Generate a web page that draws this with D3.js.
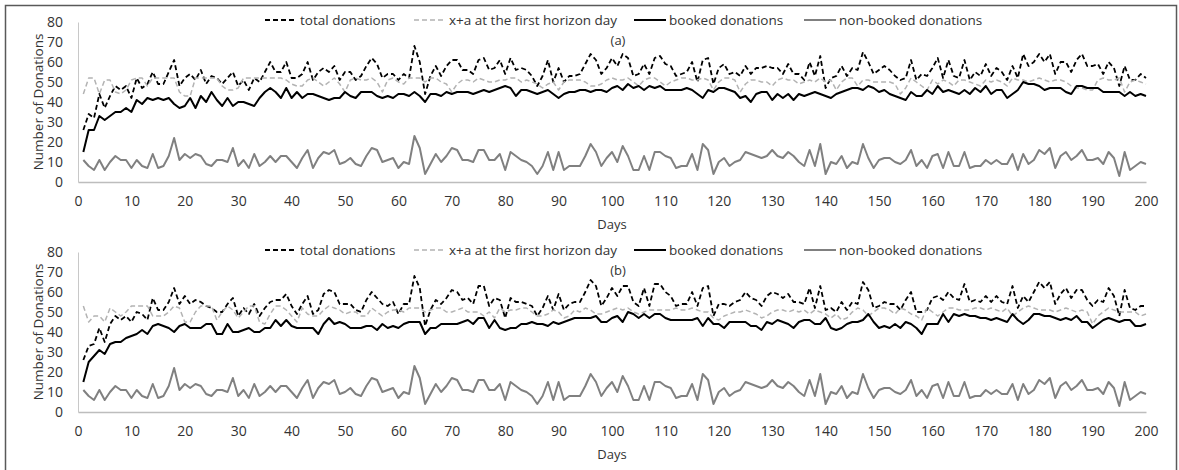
<!DOCTYPE html>
<html>
<head>
<meta charset="utf-8">
<script src="https://cdn.jsdelivr.net/npm/d3@7"></script>
<style>
  body { margin: 0; background: #fff; }
  svg text { font-family: "Open Sans", "Liberation Sans", sans-serif; fill: #333; }
</style>
</head>
<body>
<svg id="chart" width="1179" height="470"></svg>
<script>
// Days 1..200
var days = d3.range(1, 201);
var xTicks = [0, 10, 20, 30, 40, 50, 60, 70, 80, 90, 100, 110, 120, 130, 140, 150, 160, 170, 180, 190, 200];
var yTicks = [0, 10, 20, 30, 40, 50, 60, 70, 80];
var seriesNames = ["total donations", "x+a at the first horizon day", "booked donations", "non-booked donations"];

// non-booked donations (same in both panels)
var nonBooked = [
  11, 8, 6, 11, 6, 10, 13, 11, 11, 7,
  11, 8, 7, 14, 7, 8, 13, 22, 11, 14,
  12, 14, 13, 9, 8, 11, 11, 10, 17, 8,
  11, 7, 14, 8, 10, 13, 10, 13, 13, 10,
  7, 12, 16, 7, 12, 15, 14, 16, 9, 10,
  12, 9, 8, 13, 17, 16, 10, 11, 12, 7,
  10, 9, 23, 17, 4, 9, 14, 10, 13, 17,
  16, 11, 11, 10, 16, 16, 11, 11, 14, 6,
  15, 13, 11, 10, 8, 4, 8, 15, 6, 15,
  6, 8, 8, 8, 13, 19, 15, 8, 12, 15,
  10, 18, 13, 6, 6, 13, 6, 15, 15, 13,
  12, 7, 8, 8, 14, 6, 19, 16, 4, 10,
  12, 8, 10, 11, 15, 14, 13, 12, 13, 16,
  13, 12, 15, 13, 10, 8, 16, 8, 19, 4,
  10, 9, 13, 7, 10, 9, 19, 12, 7, 11,
  12, 12, 10, 9, 11, 16, 8, 11, 7, 13,
  14, 7, 15, 8, 8, 15, 7, 8, 8, 11,
  9, 11, 9, 9, 14, 6, 14, 9, 11, 16,
  14, 17, 7, 13, 15, 11, 13, 16, 11, 11,
  12, 9, 15, 12, 3, 15, 6, 8, 10, 9
];

// panel (a)
var bookedA = [
  15, 26, 26, 33, 31, 33, 35, 35, 37, 35,
  41, 39, 42, 41, 42, 41, 42, 39, 37, 38,
  42, 37, 43, 40, 45, 41, 38, 42, 38, 40,
  40, 39, 38, 42, 45, 47, 45, 42, 47, 42,
  45, 42, 44, 44, 43, 42, 41, 42, 42, 45,
  43, 42, 45, 45, 45, 43, 42, 43, 42, 44,
  44, 43, 45, 43, 40, 44, 44, 43, 45, 44,
  45, 45, 45, 44, 45, 46, 45, 46, 47, 48,
  47, 43, 46, 46, 45, 44, 45, 46, 44, 42,
  44, 45, 45, 46, 46, 45, 46, 46, 45, 47,
  48, 46, 49, 47, 48, 46, 48, 47, 48, 46,
  46, 46, 46, 47, 46, 44, 42, 46, 45, 47,
  47, 46, 45, 42, 43, 40, 44, 45, 45, 41,
  44, 42, 44, 41, 44, 43, 44, 45, 44, 43,
  42, 44, 45, 46, 47, 47, 46, 48, 47, 45,
  46, 44, 43, 42, 41, 45, 43, 43, 46, 44,
  48, 45, 46, 45, 44, 46, 44, 47, 45, 48,
  44, 46, 46, 42, 44, 46, 50, 49, 49, 48,
  46, 47, 47, 47, 45, 44, 48, 48, 47, 47,
  47, 45, 45, 45, 45, 43, 45, 43, 44, 43
];
var totalA = [
  26, 34, 32, 44, 37, 43, 48, 46, 48, 42,
  52, 47, 49, 55, 49, 49, 55, 61, 48, 52,
  54, 51, 56, 49, 53, 52, 49, 52, 55, 48,
  51, 46, 52, 50, 55, 60, 55, 55, 60, 52,
  52, 54, 60, 51, 55, 57, 55, 58, 51, 55,
  55, 51, 53, 58, 62, 59, 52, 54, 54, 51,
  54, 52, 68, 60, 44, 53, 58, 53, 58, 61,
  61, 56, 56, 54, 61, 62, 56, 57, 61, 54,
  62, 56, 57, 56, 53, 48, 53, 61, 50, 57,
  50, 53, 53, 54, 59, 64, 61, 54, 57, 62,
  58, 64, 62, 53, 54, 59, 54, 62, 63, 59,
  58, 53, 54, 55, 60, 50, 61, 62, 49, 57,
  59, 54, 55, 53, 58, 54, 57, 57, 58, 57,
  57, 54, 59, 54, 54, 51, 60, 53, 63, 47,
  52, 53, 58, 53, 57, 56, 65, 60, 54, 56,
  58, 56, 53, 51, 52, 61, 51, 54, 53, 57,
  62, 52, 61, 53, 52, 61, 51, 55, 53, 59,
  53, 57, 55, 51, 58, 52, 64, 58, 60, 64,
  60, 64, 54, 60, 60, 55, 61, 64, 58, 58,
  59, 54, 60, 57, 48, 58, 51, 51, 54, 52
];
var firstDayA = [
  44, 52, 52, 44, 51, 51, 45, 44, 46, 51,
  52, 52, 48, 52, 52, 52, 52, 52, 45, 43,
  43, 52, 52, 52, 52, 52, 48, 46, 46, 47,
  52, 52, 52, 52, 52, 52, 52, 52, 51, 49,
  48, 48, 51, 52, 50, 48, 50, 52, 49, 45,
  51, 52, 51, 51, 52, 50, 45, 51, 52, 50,
  49, 52, 52, 52, 50, 52, 52, 50, 49, 45,
  49, 51, 51, 50, 52, 51, 50, 50, 51, 51,
  52, 52, 50, 51, 50, 49, 47, 49, 50, 46,
  50, 51, 51, 51, 50, 48, 48, 49, 51, 52,
  51, 51, 52, 50, 48, 51, 52, 52, 50, 48,
  50, 51, 52, 52, 51, 51, 52, 51, 46, 50,
  52, 52, 51, 45, 49, 51, 51, 50, 50, 48,
  51, 52, 51, 51, 49, 50, 51, 50, 52, 50,
  51, 46, 50, 52, 52, 48, 51, 51, 50, 50,
  50, 50, 49, 44, 47, 52, 50, 48, 46, 51,
  49, 51, 50, 48, 51, 51, 50, 49, 48, 51,
  50, 51, 50, 48, 52, 51, 51, 50, 51, 52,
  51, 50, 51, 51, 50, 48, 47, 47, 46, 46,
  51, 52, 51, 51, 52, 45, 50, 51, 50, 49
];

// panel (b)
var bookedB = [
  15, 25, 28, 31, 29, 34, 35, 35, 37, 38,
  39, 41, 39, 43, 44, 43, 42, 40, 43, 44,
  42, 42, 42, 44, 44, 39, 39, 44, 40, 40,
  41, 42, 40, 40, 42, 42, 46, 43, 46, 43,
  42, 42, 42, 42, 39, 44, 47, 44, 45, 44,
  42, 42, 42, 43, 43, 41, 44, 42, 43, 42,
  44, 45, 45, 45, 39, 42, 42, 44, 44, 44,
  44, 45, 46, 44, 47, 47, 42, 46, 42, 41,
  42, 42, 44, 44, 45, 44, 44, 43, 45, 44,
  45, 46, 47, 47, 47, 47, 48, 45, 45, 47,
  48, 45, 50, 49, 47, 49, 47, 49, 49, 47,
  46, 46, 46, 46, 46, 47, 43, 47, 44, 44,
  42, 45, 45, 45, 45, 43, 43, 41, 45, 44,
  46, 45, 44, 42, 45, 46, 46, 44, 44, 47,
  42, 41, 42, 44, 45, 45, 46, 49, 45, 42,
  43, 42, 44, 42, 45, 44, 42, 39, 44, 44,
  44, 49, 45, 49, 48, 49, 48, 48, 47, 47,
  46, 47, 46, 45, 49, 46, 44, 46, 49, 49,
  48, 48, 47, 46, 47, 46, 48, 45, 45, 42,
  44, 46, 47, 46, 45, 46, 46, 43, 43, 44
];
var totalB = [
  26, 33, 34, 42, 35, 44, 48, 46, 48, 45,
  50, 49, 46, 57, 51, 51, 55, 62, 54, 58,
  54, 56, 55, 53, 52, 50, 50, 54, 57, 48,
  52, 49, 54, 48, 52, 55, 56, 56, 59, 53,
  49, 54, 58, 49, 51, 59, 61, 60, 54, 54,
  54, 51, 50, 56, 60, 57, 54, 53, 55, 49,
  54, 54, 68, 62, 43, 51, 56, 54, 57, 61,
  60, 56, 57, 54, 63, 63, 53, 57, 56, 47,
  57, 55, 55, 54, 53, 48, 52, 58, 51, 59,
  51, 54, 55, 55, 60, 66, 63, 53, 57, 62,
  58, 63, 63, 55, 53, 62, 53, 64, 64, 60,
  58, 53, 54, 54, 60, 53, 62, 63, 48, 54,
  54, 53, 55, 56, 60, 57, 56, 53, 58, 60,
  59, 57, 59, 55, 55, 54, 62, 52, 63, 51,
  52, 50, 55, 51, 55, 54, 65, 61, 52, 53,
  55, 54, 54, 51, 56, 60, 50, 50, 51, 57,
  58, 56, 60, 57, 56, 64, 55, 56, 55, 58,
  55, 58, 55, 54, 63, 52, 58, 55, 60, 65,
  62, 65, 54, 59, 62, 57, 61, 61, 56, 53,
  56, 55, 62, 58, 48, 61, 52, 51, 53, 53
];
var firstDayB = [
  53, 45, 48, 48, 45, 52, 50, 48, 50, 53,
  53, 53, 53, 48, 48, 48, 50, 53, 52, 45,
  45, 50, 53, 53, 53, 46, 50, 53, 51, 47,
  50, 53, 53, 45, 44, 49, 53, 53, 51, 48,
  45, 52, 49, 48, 48, 51, 53, 52, 51, 49,
  50, 50, 48, 48, 52, 50, 48, 50, 51, 51,
  50, 52, 52, 52, 50, 51, 52, 52, 50, 50,
  51, 52, 50, 50, 50, 48, 50, 47, 52, 50,
  51, 51, 52, 52, 50, 48, 48, 49, 51, 50,
  47, 48, 51, 50, 52, 51, 49, 49, 50, 51,
  52, 51, 52, 50, 49, 50, 51, 51, 51, 51,
  51, 52, 51, 51, 52, 51, 50, 50, 47, 46,
  48, 49, 50, 50, 51, 50, 49, 47, 48, 50,
  51, 51, 50, 51, 50, 51, 49, 51, 50, 49,
  47, 49, 46, 47, 50, 52, 51, 48, 50, 52,
  52, 51, 49, 52, 51, 49, 48, 46, 52, 50,
  48, 50, 52, 52, 51, 51, 51, 52, 52, 51,
  52, 51, 50, 52, 48, 50, 52, 53, 52, 51,
  51, 51, 50, 51, 52, 51, 50, 51, 50, 44,
  48, 50, 52, 51, 50, 50, 50, 50, 48, 49
];

var svg = d3.select("#chart");

// outer frame
svg.append("rect")
  .attr("x", 5.5).attr("y", 5.5)
  .attr("width", 1171).attr("height", 470)
  .attr("fill", "none").attr("stroke", "#595959").attr("stroke-width", 1.5);

var x = d3.scaleLinear().domain([0, 200]).range([78, 1146]);

var styles = [
  { color: "#000", width: 1.8, dash: "5,3" },
  { color: "#b3b3b3", width: 1.5, dash: "5,3" },
  { color: "#000", width: 2, dash: null },
  { color: "#808080", width: 2, dash: null }
];

var drawPanel = function (top, label, lists) {
  var y = d3.scaleLinear().domain([0, 80]).range([top + 160, top]);
  var g = svg.append("g");

  // y axis
  var yAxis = g.append("g")
    .attr("transform", "translate(" + x(0) + ",0)")
    .call(d3.axisLeft(y).tickValues(yTicks).tickSize(0).tickPadding(15));
  yAxis.select(".domain").attr("stroke", "#c8c8c8");
  yAxis.selectAll("text").style("font-size", "14px").attr("fill", "#333");

  // x axis (labels pushed a bit lower)
  var xAxis = g.append("g")
    .attr("transform", "translate(0," + y(0) + ")")
    .call(d3.axisBottom(x).tickValues(xTicks).tickSize(0).tickPadding(14));
  xAxis.select(".domain").attr("stroke", "#bdbdbd").attr("stroke-width", 1.5);
  xAxis.selectAll("text").style("font-size", "14px").attr("fill", "#333");

  g.append("text")
    .attr("x", 612).attr("y", top + 207)
    .attr("text-anchor", "middle")
    .style("font-size", "13px")
    .text("Days");

  g.append("text")
    .attr("transform", "translate(38," + (top + 80) + ") rotate(-90)")
    .attr("text-anchor", "middle")
    .attr("dy", "0.35em")
    .style("font-size", "13.5px")
    .text("Number of Donations");

  g.append("text")
    .attr("x", 618).attr("y", top + 23)
    .attr("text-anchor", "middle")
    .style("font-size", "13px")
    .text(label);

  // lines
  var line = d3.line()
    .x(function (d, i) { return x(days[i]); })
    .y(function (d) { return y(d); });

  lists.forEach(function (vals, k) {
    g.append("path")
      .datum(vals)
      .attr("fill", "none")
      .attr("stroke", styles[k].color)
      .attr("stroke-width", styles[k].width)
      .attr("stroke-dasharray", styles[k].dash)
      .attr("stroke-linejoin", "round")
      .attr("d", line);
  });

  // legend
  var legX = [265, 414, 634, 804];
  var leg = g.append("g").attr("transform", "translate(0," + (top - 2) + ")");
  seriesNames.forEach(function (name, k) {
    leg.append("line")
      .attr("x1", legX[k]).attr("x2", legX[k] + 32)
      .attr("y1", 0).attr("y2", 0)
      .attr("stroke", styles[k].color)
      .attr("stroke-width", styles[k].width)
      .attr("stroke-dasharray", styles[k].dash);
    leg.append("text")
      .attr("x", legX[k] + 35).attr("y", 0)
      .attr("dy", "0.35em")
      .style("font-size", "13.5px")
      .text(name);
  });
};

drawPanel(22, "(a)", [totalA, firstDayA, bookedA, nonBooked]);
drawPanel(252, "(b)", [totalB, firstDayB, bookedB, nonBooked]);
</script>
</body>
</html>
